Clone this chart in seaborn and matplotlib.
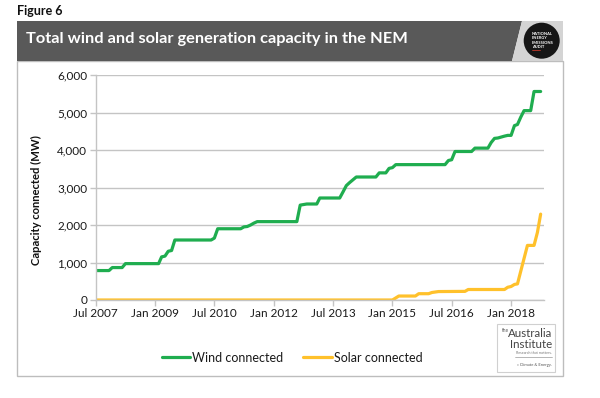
import numpy as np
import pandas as pd
import matplotlib
matplotlib.use("Agg")
import matplotlib.pyplot as plt
from matplotlib.patches import Rectangle, Polygon, Circle
from matplotlib.lines import Line2D
import seaborn as sns

# ---------------- data ----------------
wind_dates = ["2007-07", "2007-11", "2007-12", "2008-03", "2008-04", "2009-02", "2009-03",
              "2009-04", "2009-05", "2009-06", "2009-07", "2010-06", "2010-07", "2010-08",
              "2011-03", "2011-04", "2011-05", "2011-06", "2011-07", "2011-08", "2012-08",
              "2012-09", "2012-11", "2013-02", "2013-03", "2013-09", "2013-10", "2013-11",
              "2013-12", "2014-02", "2014-08", "2014-09", "2014-11", "2014-12", "2015-01",
              "2015-02", "2016-05", "2016-06", "2016-07", "2016-08", "2017-01", "2017-02",
              "2017-06", "2017-07", "2017-08", "2017-09", "2017-11", "2017-12", "2018-01",
              "2018-02", "2018-03", "2018-04", "2018-05", "2018-07", "2018-08", "2018-10"]
wind_mw = [785, 785, 865, 865, 970, 970, 1150,
           1170, 1300, 1320, 1600, 1600, 1650, 1900,
           1900, 1950, 1960, 2000, 2050, 2090, 2090,
           2530, 2560, 2560, 2720, 2720, 2880, 3050,
           3130, 3280, 3280, 3390, 3390, 3510, 3530,
           3610, 3610, 3720, 3740, 3960, 3960, 4050,
           4050, 4200, 4310, 4320, 4370, 4390, 4390,
           4650, 4680, 4880, 5050, 5050, 5560, 5560]

solar_dates = ["2007-07", "2015-01", "2015-03", "2015-08", "2015-09", "2015-12", "2016-01",
               "2016-03", "2016-11", "2016-12", "2017-11", "2017-12", "2018-01", "2018-02",
               "2018-03", "2018-06", "2018-08", "2018-09", "2018-10"]
solar_mw = [0, 0, 106, 106, 168, 168, 200,
            225, 230, 280, 280, 340, 360, 415,
            430, 1456, 1456, 1800, 2290]

series_names = ["Wind connected", "Solar connected"]
series_colors = ["#1fad4f", "#ffc12b"]

x_tick_dates = ["2007-07", "2009-01", "2010-07", "2012-01", "2013-07", "2015-01", "2016-07", "2018-01"]
x_tick_labels = ["Jul 2007", "Jan 2009", "Jul 2010", "Jan 2012", "Jul 2013", "Jan 2015", "Jul 2016", "Jan 2018"]
y_ticks = [0, 1000, 2000, 3000, 4000, 5000, 6000]

title = "Total wind and solar generation capacity in the NEM"
fig_label = "Figure 6"
y_label = "Capacity connected (MW)"

# ---------------- frame ----------------
df = pd.concat([
    pd.DataFrame({"date": pd.to_datetime(wind_dates), "MW": wind_mw, "series": series_names[0]}),
    pd.DataFrame({"date": pd.to_datetime(solar_dates), "MW": solar_mw, "series": series_names[1]}),
], ignore_index=True)

sns.set_theme(style="white")
FONT = ["Lato", "DejaVu Sans"]
plt.rcParams["font.family"] = FONT

W, H = 600, 398
fig = plt.figure(figsize=(6.0, 3.98), dpi=100)

def fx(px):
    return px / W

def fy(py):
    return 1 - py / H

left, right, top, bottom = 95.7, 544, 75, 300
ax = fig.add_axes([fx(left), fy(bottom), fx(right - left), (bottom - top) / H])

sns.lineplot(data=df, x="date", y="MW", hue="series", palette=series_colors,
             hue_order=series_names, linewidth=2.3, ax=ax, legend=False, estimator=None,
             sort=False)

ax.set_xlim(pd.Timestamp("2007-07-01"), pd.Timestamp("2018-11-01"))
ax.set_ylim(0, 6000)
ax.set_yticks(y_ticks)
ax.set_yticklabels([f"{v:,}" for v in y_ticks])
ax.set_xticks(pd.to_datetime(x_tick_dates))
ax.set_xticklabels(x_tick_labels)
ax.set_xlabel("")
ax.set_ylabel(y_label, fontsize=8.1, fontweight="bold", color="#111111")
ax.yaxis.set_label_coords(-0.12, 0.444)

ax.yaxis.grid(True, color="#c4c4c4", linewidth=1.0)
ax.xaxis.grid(False)
ax.set_axisbelow(True)
for s in ["top", "right"]:
    ax.spines[s].set_visible(False)
for s in ["left", "bottom"]:
    ax.spines[s].set_color("#c4c4c4")
    ax.spines[s].set_linewidth(1.0)
ax.tick_params(axis="both", which="both", length=4, width=1, color="#c4c4c4",
               labelsize=8.5, labelcolor="#1a1a1a", pad=2)
ax.tick_params(axis="x", direction="out", bottom=True)
ax.tick_params(axis="y", direction="out", left=True)

# ---------------- decoration ----------------
fig.text(fx(17), fy(11), fig_label, fontsize=9, fontweight="bold", color="#111111",
         va="center", ha="left")

fig.patches.append(Rectangle((fx(17), fy(376)), fx(563 - 17), (376 - 61) / H,
                             transform=fig.transFigure, fill=False, edgecolor="#bdbdbd",
                             linewidth=1.0, zorder=0))
fig.patches.append(Polygon([(fx(17), fy(21)), (fx(522), fy(21)), (fx(512), fy(61)), (fx(17), fy(61))],
                           closed=True, transform=fig.transFigure, facecolor="#595959",
                           edgecolor="none", zorder=1))
fig.patches.append(Polygon([(fx(522), fy(21)), (fx(563), fy(21)), (fx(563), fy(61)), (fx(512), fy(61))],
                           closed=True, transform=fig.transFigure, facecolor="#d4d4d4",
                           edgecolor="none", zorder=1))
fig.text(fx(26.5), fy(38.5), title, fontsize=11.8, fontweight="bold", color="white",
         va="center", ha="left", zorder=3)

# NEEA roundel
circ = Circle((541.7 / 100, (H - 40.7) / 100), 0.18, transform=fig.dpi_scale_trans,
              facecolor="#161616", edgecolor="none", zorder=2)
fig.patches.append(circ)
for i, t in enumerate(["NATIONAL", "ENERGY", "EMISSIONS", "AUDIT"]):
    fig.text(fx(532), fy(34 + i * 4.4), t, fontsize=2.9, fontweight="bold", color="white",
             va="center", ha="left", zorder=3)
fig.add_artist(Line2D([fx(532), fx(540)], [fy(49.5), fy(49.5)], transform=fig.transFigure,
                      color="#c0392b", linewidth=0.6, zorder=3))

# legend
handles = [Line2D([0], [0], color=c, linewidth=2.3) for c in series_colors]
fig.legend(handles, series_names, loc="center", bbox_to_anchor=(fx(292), fy(357.5)),
           ncol=2, frameon=False, fontsize=9, handlelength=2.3, handletextpad=0.15,
           columnspacing=1.6, labelcolor="#1a1a1a")

# Australia Institute badge
fig.patches.append(Rectangle((fx(497), fy(372)), fx(555 - 497), (372 - 324) / H,
                             transform=fig.transFigure, facecolor="white", edgecolor="#d0d0d0",
                             linewidth=0.8, zorder=1))
fig.text(fx(502), fy(330), "the", fontsize=3.5, color="#555555", ha="left", va="center")
fig.text(fx(552), fy(333.5), "Australia", fontsize=8.3, color="#444444", ha="right", va="center")
fig.text(fx(552), fy(344), "Institute", fontsize=8.3, color="#444444", ha="right", va="center")
fig.text(fx(552), fy(353), "Research that matters.", fontsize=2.6, color="#777777", ha="right", va="center")
fig.add_artist(Line2D([fx(515), fx(552)], [fy(357), fy(357)], transform=fig.transFigure,
                      color="#999999", linewidth=0.5))
fig.text(fx(552), fy(365), "\u00bb Climate & Energy.", fontsize=3.0, color="#555555", ha="right", va="center")

fig.savefig("out.png", dpi=100)
